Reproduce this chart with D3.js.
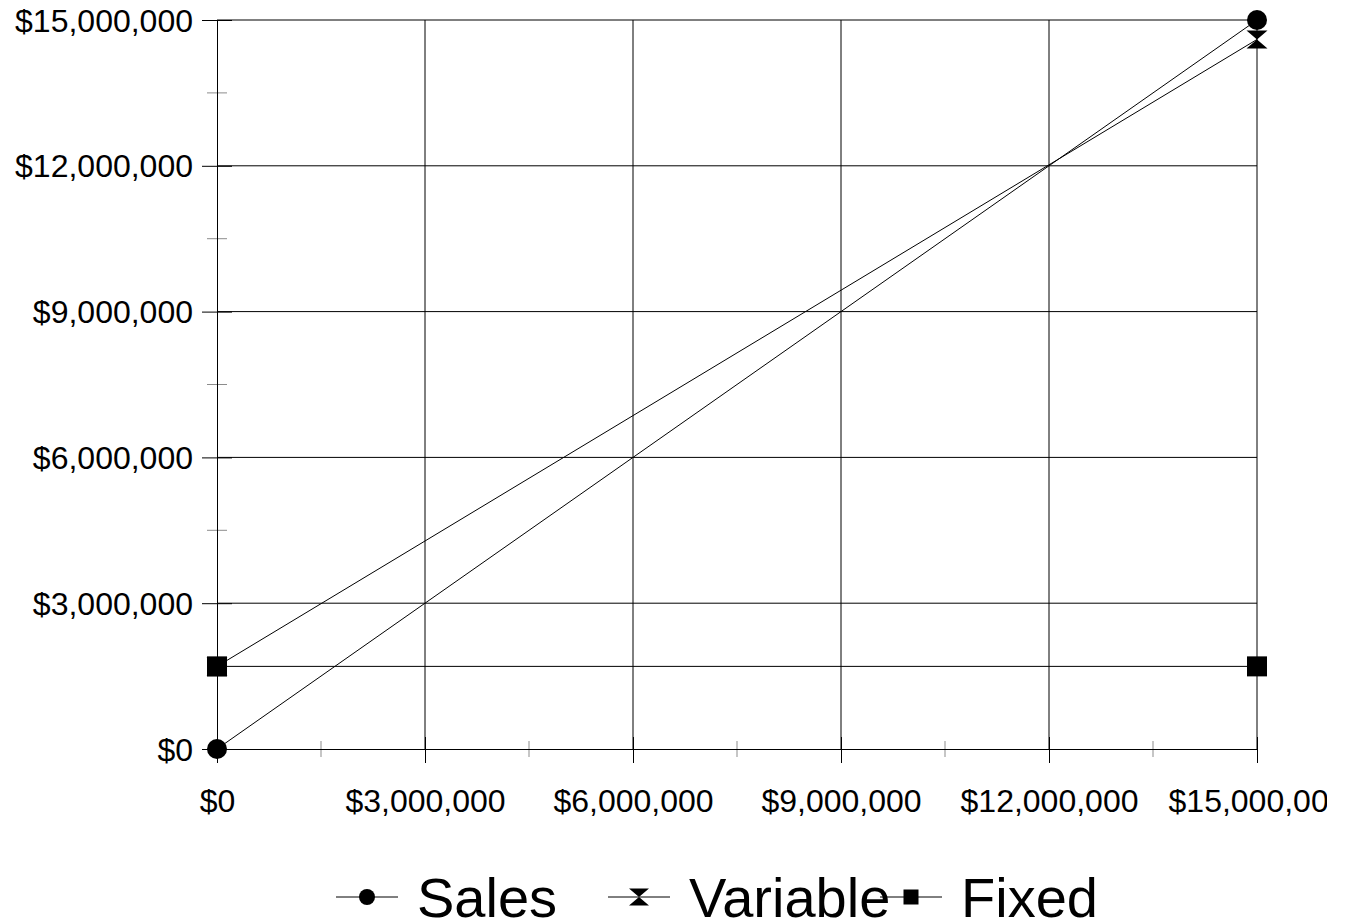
<!DOCTYPE html>
<html>
<head>
<meta charset="utf-8">
<script src="https://cdn.jsdelivr.net/npm/d3@7"></script>
<style>
  html, body { margin: 0; padding: 0; background: #fff; }
  svg { display: block; }
  text { font-family: "Liberation Sans", Arial, sans-serif; fill: #000; }
</style>
</head>
<body>
<svg id="chart" width="1350" height="924"></svg>
<script>
// ---- data ----
const xValues = [0, 15000000];
const salesValues = [0, 15000000];
const variableValues = [1700000, 14600000];
const fixedValues = [1700000, 1700000];
const seriesNames = ["Sales", "Variable", "Fixed"];
const majorTicks = [0, 3000000, 6000000, 9000000, 12000000, 15000000];
const minorTicks = [1500000, 4500000, 7500000, 10500000, 13500000];

// ---- layout ----
const W = 1350, H = 924;
const plotL = 217, plotR = 1257, plotT = 20, plotB = 749;
const svg = d3.select("#chart");

svg.append("defs").append("clipPath").attr("id", "clip")
  .append("rect").attr("x", 0).attr("y", 0).attr("width", 1327).attr("height", H);

const g = svg.append("g").attr("clip-path", "url(#clip)");

const x = d3.scaleLinear().domain([0, 15000000]).range([plotL, plotR]);
const y = d3.scaleLinear().domain([0, 15000000]).range([plotB, plotT]);
const fmt = v => "$" + d3.format(",")(v);

// gridlines
g.append("g").selectAll("line").data(majorTicks.slice(1)).join("line")
  .attr("x1", plotL).attr("x2", plotR)
  .attr("y1", d => y(d)).attr("y2", d => y(d))
  .attr("stroke", "#000").attr("stroke-width", 1);
g.append("g").selectAll("line").data(majorTicks.slice(1)).join("line")
  .attr("x1", d => x(d)).attr("x2", d => x(d))
  .attr("y1", plotT).attr("y2", plotB)
  .attr("stroke", "#000").attr("stroke-width", 1);

// x axis
const xAxis = d3.axisBottom(x).tickValues(majorTicks).tickFormat(fmt).tickSizeInner(14).tickSizeOuter(0);
const xg = g.append("g").attr("transform", `translate(0,${plotB})`).call(xAxis);
xg.select(".domain").attr("stroke", "#000");
xg.selectAll(".tick line").attr("y1", -12).attr("y2", 14).attr("stroke", "#000");
xg.selectAll(".tick text").attr("font-size", 32).attr("font-family", "Liberation Sans, Arial, sans-serif").attr("fill", "#000").attr("dy", 0).attr("y", 63);
g.append("g").selectAll("line").data(minorTicks).join("line")
  .attr("x1", d => x(d)).attr("x2", d => x(d))
  .attr("y1", plotB - 8).attr("y2", plotB + 8)
  .attr("stroke", "#000").attr("stroke-width", 1).attr("stroke-opacity", 0.45);

// y axis
const yAxis = d3.axisLeft(y).tickValues(majorTicks).tickFormat(fmt).tickSizeInner(15).tickSizeOuter(0);
const yg = g.append("g").attr("transform", `translate(${plotL},0)`).call(yAxis);
yg.select(".domain").attr("stroke", "#000");
yg.selectAll(".tick line").attr("x1", -15).attr("x2", 15).attr("stroke", "#000");
yg.selectAll(".tick text").attr("font-size", 32).attr("font-family", "Liberation Sans, Arial, sans-serif").attr("fill", "#000").attr("dy", 0).attr("y", 11).attr("x", -24);
g.append("g").selectAll("line").data(minorTicks).join("line")
  .attr("x1", plotL - 10).attr("x2", plotL + 10)
  .attr("y1", d => y(d)).attr("y2", d => y(d))
  .attr("stroke", "#000").attr("stroke-width", 1).attr("stroke-opacity", 0.45);

// series
const series = [
  { name: seriesNames[0], values: salesValues, shape: "circle" },
  { name: seriesNames[1], values: variableValues, shape: "bowtie" },
  { name: seriesNames[2], values: fixedValues, shape: "square" }
];
const line = d3.line().x(d => x(d[0])).y(d => y(d[1]));
series.forEach(s => {
  g.append("path").datum(xValues.map((xv, i) => [xv, s.values[i]]))
    .attr("d", line).attr("fill", "none").attr("stroke", "#000").attr("stroke-width", 1);
});

function drawMarker(sel, shape, size) {
  if (shape === "circle") {
    sel.append("circle").attr("r", size / 2).attr("fill", "#000");
  } else if (shape === "square") {
    sel.append("rect").attr("x", -size / 2).attr("y", -size / 2).attr("width", size).attr("height", size).attr("fill", "#000");
  } else {
    const w = size * 1.05, h = size * 0.9;
    sel.append("path")
      .attr("d", `M${-w/2},${-h/2}L${w/2},${-h/2}L0,0Z M${-w/2},${h/2}L${w/2},${h/2}L0,0Z`)
      .attr("fill", "#000");
  }
}
// draw Variable first, then Sales, Fixed on top
[series[1], series[0], series[2]].forEach(s => {
  xValues.forEach((xv, i) => {
    const m = g.append("g").attr("transform", `translate(${x(xv)},${y(s.values[i])})`);
    drawMarker(m, s.shape, 20);
  });
});

// legend
const legendY = 897;
const legendX = [336, 608, 880];
const lg = svg.append("g");
series.forEach((s, i) => {
  const it = lg.append("g").attr("transform", `translate(${legendX[i]},${legendY})`);
  it.append("line").attr("x1", 0).attr("x2", 62).attr("y1", 0).attr("y2", 0).attr("stroke", "#000").attr("stroke-width", 1);
  const m = it.append("g").attr("transform", "translate(31,0)");
  drawMarker(m, s.shape, s.shape === "circle" ? 16 : (s.shape === "square" ? 15 : 19));
  it.append("text").attr("x", 81).attr("y", 20).attr("font-size", 56).text(s.name);
});
</script>
</body>
</html>
